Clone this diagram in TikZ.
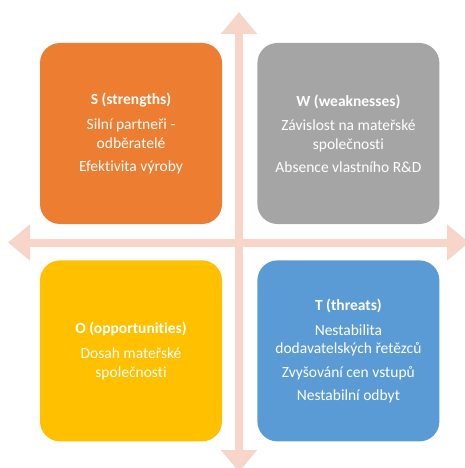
\documentclass[tikz,border=0pt]{standalone}
\usepackage{fontspec}
\setmainfont{Carlito}[Ligatures=NoCommon]
\usetikzlibrary{arrows.meta, positioning}
\definecolor{swotorange}{RGB}{237, 125, 49}
\definecolor{swotgray}{RGB}{165, 165, 165}
\definecolor{swotyellow}{RGB}{255, 192, 0}
\definecolor{swotblue}{RGB}{91, 155, 213}
\definecolor{axispink}{RGB}{247, 213, 201}

\begin{document}
\begin{tikzpicture}[x=1pt, y=-1pt, node distance=35pt and 35pt,
    quad/.style={rounded corners=20pt, minimum width=182pt, minimum height=181pt,
      inner sep=0pt, text=white, align=center, font=\fontsize{15.5}{18.6}\selectfont},
    axis/.style={draw=axispink, line width=8pt,
      arrows={Triangle[width=35pt,length=22pt]-Triangle[width=35pt,length=22pt]}}]
      \useasboundingbox (0,0) rectangle (465,468);
      % cross of axes
      \coordinate (top) at (239,12);
      \coordinate (bottom) at (239,472);
      \coordinate (left) at (8,242.5);
      \coordinate (right) at (469,242.5);
      \draw[axis] (bottom) -- (top);
      \draw[axis] (left) -- (right);
      % the four quadrants
      \node[quad, fill=swotorange] (strengths) at (131,133.5)
        {\textbf{S (strengths)}\\[6pt]Silní partneři -\\odběratelé\\[4.5pt]Efektivita výroby};
      \node[quad, fill=swotgray, right=of strengths] (weaknesses)
        {\textbf{W (weaknesses)}\\[6pt]Závislost na mateřské\\společnosti\\[4.5pt]Absence vlastního R\&D};
      \node[quad, fill=swotyellow, below=36pt of strengths] (opportunities)
        {\textbf{O (opportunities)}\\[6pt]Dosah mateřské\\společnosti};
      \node[quad, fill=swotblue, below=36pt of weaknesses] (threats)
        {\textbf{T (threats)}\\[6pt]Nestabilita\\dodavatelských řetězců\\[4.5pt]Zvyšování cen vstupů\\[4.5pt]Nestabilní odbyt};
    \end{tikzpicture}
\end{document}
